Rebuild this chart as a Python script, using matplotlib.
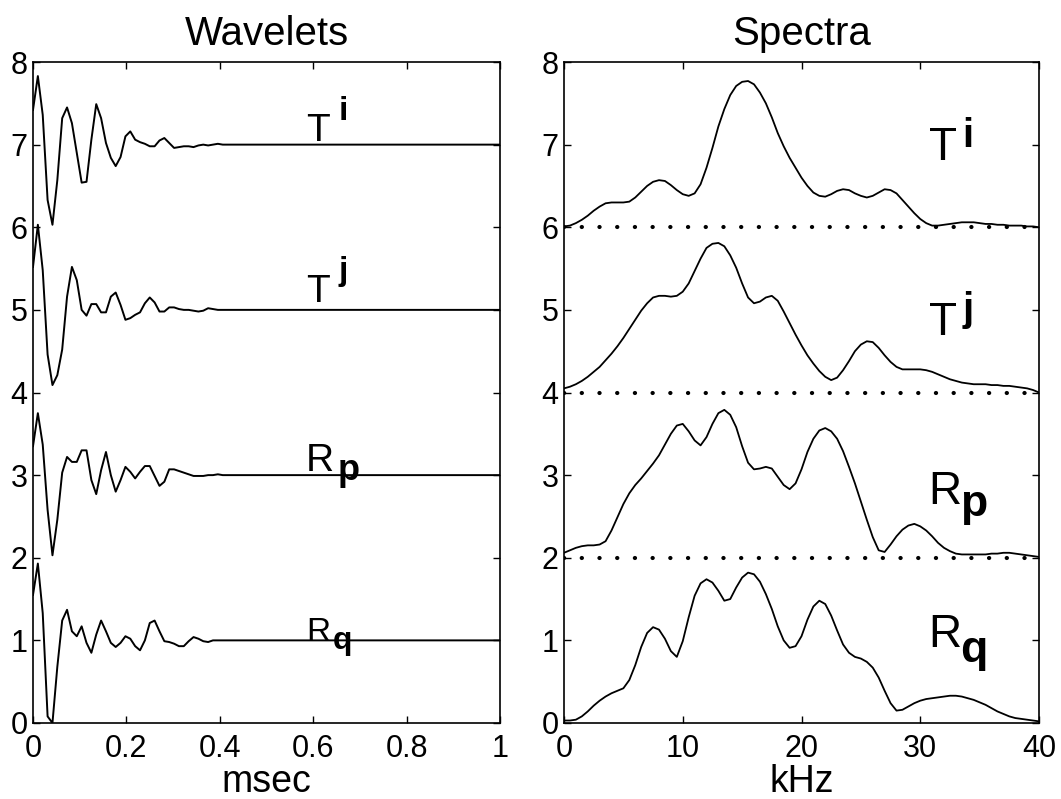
import numpy as np
import matplotlib
matplotlib.use('Agg')
import matplotlib.pyplot as plt

plt.rcParams['font.family'] = ['Liberation Sans', 'DejaVu Sans']

# ---- wavelets: samples every DT msec, the trace then stays flat to 1 msec
DT = 1 / 96.0
wave_offsets = [7, 5, 3, 1]
wave_Ti = [7.42, 7.83, 7.36, 6.33, 6.03, 6.57, 7.32, 7.45, 7.26, 6.90,
           6.54, 6.55, 7.06, 7.49, 7.32, 7.02, 6.84, 6.74, 6.85, 7.10,
           7.16, 7.06, 7.03, 7.01, 6.98, 6.98, 7.05, 7.08, 7.02, 6.96,
           6.97, 6.98, 6.98, 6.97, 6.99, 7.00, 6.99, 7.00, 7.01, 7.00]
wave_Tj = [5.52, 6.03, 5.48, 4.46, 4.09, 4.21, 4.52, 5.16, 5.52, 5.36,
           5.00, 4.93, 5.07, 5.07, 4.97, 4.97, 5.16, 5.21, 5.06, 4.88,
           4.90, 4.94, 4.97, 5.08, 5.15, 5.09, 4.98, 4.98, 5.03, 5.03,
           5.01, 5.00, 5.00, 4.99, 4.98, 4.99, 5.02, 5.01, 5.00, 5.00]
wave_Rp = [3.35, 3.75, 3.37, 2.58, 2.03, 2.46, 3.03, 3.22, 3.16, 3.16,
           3.30, 3.30, 2.94, 2.77, 3.06, 3.28, 3.00, 2.80, 2.94, 3.10,
           3.04, 2.96, 3.04, 3.11, 3.11, 2.99, 2.87, 2.92, 3.07, 3.07,
           3.05, 3.03, 3.01, 2.99, 2.99, 2.99, 3.00, 3.00, 3.01, 3.00]
wave_Rq = [1.55, 1.93, 1.33, 0.08, 0.00, 0.68, 1.24, 1.37, 1.11, 1.05,
           1.17, 0.97, 0.85, 1.07, 1.24, 1.11, 0.97, 0.92, 0.97, 1.05,
           1.02, 0.93, 0.88, 1.00, 1.21, 1.24, 1.11, 0.99, 0.98, 0.96,
           0.93, 0.93, 0.99, 1.04, 1.02, 0.99, 0.98, 1.00, 1.00, 1.00]

# ---- spectra: values every 0.5 kHz from 0 to 40 kHz
freq_khz = np.arange(0, 40.5, 0.5)
spec_baselines = [6, 4, 2]
spec_Ti = [6.01, 6.02, 6.05, 6.09, 6.14, 6.20, 6.25, 6.29, 6.30, 6.30,
           6.30, 6.31, 6.36, 6.43, 6.50, 6.55, 6.57, 6.56, 6.51, 6.45,
           6.40, 6.38, 6.41, 6.52, 6.72, 6.96, 7.22, 7.43, 7.60, 7.71,
           7.76, 7.77, 7.73, 7.63, 7.50, 7.33, 7.14, 6.98, 6.84, 6.72,
           6.60, 6.50, 6.42, 6.38, 6.37, 6.40, 6.44, 6.46, 6.45, 6.41,
           6.38, 6.36, 6.38, 6.42, 6.46, 6.45, 6.41, 6.33, 6.25, 6.17,
           6.10, 6.05, 6.02, 6.02, 6.03, 6.04, 6.05, 6.06, 6.06, 6.06,
           6.05, 6.04, 6.04, 6.03, 6.03, 6.02, 6.02, 6.02, 6.01, 6.01,
           6.00]
spec_Tj = [4.05, 4.07, 4.10, 4.14, 4.19, 4.25, 4.31, 4.39, 4.47, 4.56,
           4.66, 4.77, 4.88, 4.99, 5.08, 5.15, 5.17, 5.17, 5.16, 5.17,
           5.22, 5.32, 5.47, 5.62, 5.75, 5.80, 5.81, 5.77, 5.66, 5.51,
           5.32, 5.15, 5.08, 5.10, 5.15, 5.17, 5.11, 4.98, 4.84, 4.70,
           4.57, 4.45, 4.35, 4.26, 4.19, 4.15, 4.18, 4.27, 4.38, 4.50,
           4.58, 4.62, 4.61, 4.54, 4.45, 4.37, 4.31, 4.28, 4.28, 4.28,
           4.28, 4.27, 4.25, 4.22, 4.19, 4.16, 4.14, 4.12, 4.11, 4.10,
           4.10, 4.10, 4.09, 4.09, 4.08, 4.08, 4.07, 4.06, 4.05, 4.03,
           4.00]
spec_Rp = [2.06, 2.09, 2.12, 2.14, 2.15, 2.15, 2.16, 2.20, 2.33, 2.49,
           2.65, 2.78, 2.88, 2.96, 3.05, 3.14, 3.24, 3.37, 3.50, 3.60,
           3.62, 3.53, 3.42, 3.36, 3.46, 3.62, 3.75, 3.79, 3.73, 3.58,
           3.35, 3.15, 3.07, 3.08, 3.10, 3.08, 2.98, 2.88, 2.83, 2.90,
           3.07, 3.28, 3.44, 3.54, 3.57, 3.53, 3.44, 3.29, 3.10, 2.90,
           2.68, 2.46, 2.25, 2.09, 2.07, 2.16, 2.26, 2.34, 2.39, 2.41,
           2.38, 2.33, 2.26, 2.18, 2.12, 2.08, 2.05, 2.04, 2.04, 2.04,
           2.04, 2.04, 2.05, 2.05, 2.06, 2.06, 2.05, 2.04, 2.03, 2.02,
           2.01]
spec_Rq = [0.03, 0.03, 0.04, 0.08, 0.14, 0.21, 0.27, 0.32, 0.36, 0.39,
           0.42, 0.52, 0.70, 0.92, 1.09, 1.16, 1.13, 1.02, 0.87, 0.80,
           0.99, 1.28, 1.54, 1.69, 1.74, 1.70, 1.60, 1.48, 1.50, 1.64,
           1.76, 1.82, 1.80, 1.71, 1.56, 1.38, 1.17, 1.00, 0.91, 0.93,
           1.05, 1.25, 1.41, 1.48, 1.44, 1.30, 1.12, 0.95, 0.85, 0.80,
           0.78, 0.74, 0.67, 0.55, 0.39, 0.24, 0.15, 0.16, 0.20, 0.24,
           0.27, 0.29, 0.30, 0.31, 0.32, 0.33, 0.33, 0.32, 0.30, 0.28,
           0.25, 0.22, 0.18, 0.14, 0.11, 0.08, 0.06, 0.05, 0.04, 0.03,
           0.02]

# label text: (main letter, index letter, is superscript)
labels = [('T', 'i', True), ('T', 'j', True), ('R', 'p', False), ('R', 'q', False)]
# positions in data coords: (x main, y main, x index, y index)
wave_label_pos = [(0.61, 7.17, 0.665, 7.40), (0.61, 5.22, 0.665, 5.46),
                  (0.615, 3.17, 0.675, 3.05), (0.61, 1.10, 0.662, 0.99)]
wave_label_size = [(28, 24), (28, 24), (28, 26), (24, 23)]
spec_label_pos = [(31.9, 6.96, 34.0, 7.11), (31.9, 4.84, 34.0, 5.00),
                  (32.1, 2.79, 34.5, 2.64), (32.1, 1.06, 34.5, 0.88)]

W, H = 1061, 799
fig = plt.figure(figsize=(W / 100, H / 100), dpi=100)
ax1 = fig.add_axes([33 / W, 1 - 723 / H, (500 - 33) / W, (723 - 62) / H])
ax2 = fig.add_axes([564 / W, 1 - 723 / H, (1039 - 564) / W, (723 - 62) / H])

for off, vals in zip(wave_offsets, [wave_Ti, wave_Tj, wave_Rp, wave_Rq]):
    t = np.arange(len(vals)) * DT
    ax1.plot(np.append(t, 1.0), np.append(vals, off), color='black', lw=1.4)

for vals in [spec_Ti, spec_Tj, spec_Rp, spec_Rq]:
    ax2.plot(freq_khz, vals, color='black', lw=1.3)
for b in spec_baselines:
    ax2.axhline(b, color='black', lw=3.0, linestyle=(0, (0.05, 4.2)),
                dash_capstyle='round')

for (main, idx, sup), (xm, ym, xi, yi), (fm, fi) in zip(labels, wave_label_pos, wave_label_size):
    ax1.text(xm, ym, main, fontsize=fm, ha='center', va='center')
    ax1.text(xi, yi, idx, fontsize=fi, fontweight='bold', ha='center', va='center')
for (main, idx, sup), (xm, ym, xi, yi) in zip(labels, spec_label_pos):
    ax2.text(xm, ym, main, fontsize=33, ha='center', va='center')
    ax2.text(xi, yi, idx, fontsize=29 if sup else 32, fontweight='bold',
             ha='center', va='center')

ax1.set_xlim(0, 1)
ax1.set_xticks([0, 0.2, 0.4, 0.6, 0.8, 1])
ax1.set_xticklabels(['0', '0.2', '0.4', '0.6', '0.8', '1'])
ax2.set_xlim(0, 40)
ax2.set_xticks([0, 10, 20, 30, 40])
ax2.set_xticklabels(['0', '10', '20', '30', '40'])

for ax, title, xlab in [(ax1, 'Wavelets', 'msec'), (ax2, 'Spectra', 'kHz')]:
    ax.set_ylim(0, 8)
    ax.set_yticks(range(9))
    ax.set_yticklabels([str(v) for v in range(9)])
    ax.set_title(title, fontsize=29, pad=12)
    ax.set_xlabel(xlab, fontsize=27, labelpad=0)
    ax.tick_params(direction='in', length=5, width=1, top=True, right=True,
                   labelsize=22)
    ax.tick_params(axis='x', pad=8)
    ax.tick_params(axis='y', pad=4)
    for s in ax.spines.values():
        s.set_linewidth(1.2)

fig.savefig('out.png', dpi=100)
